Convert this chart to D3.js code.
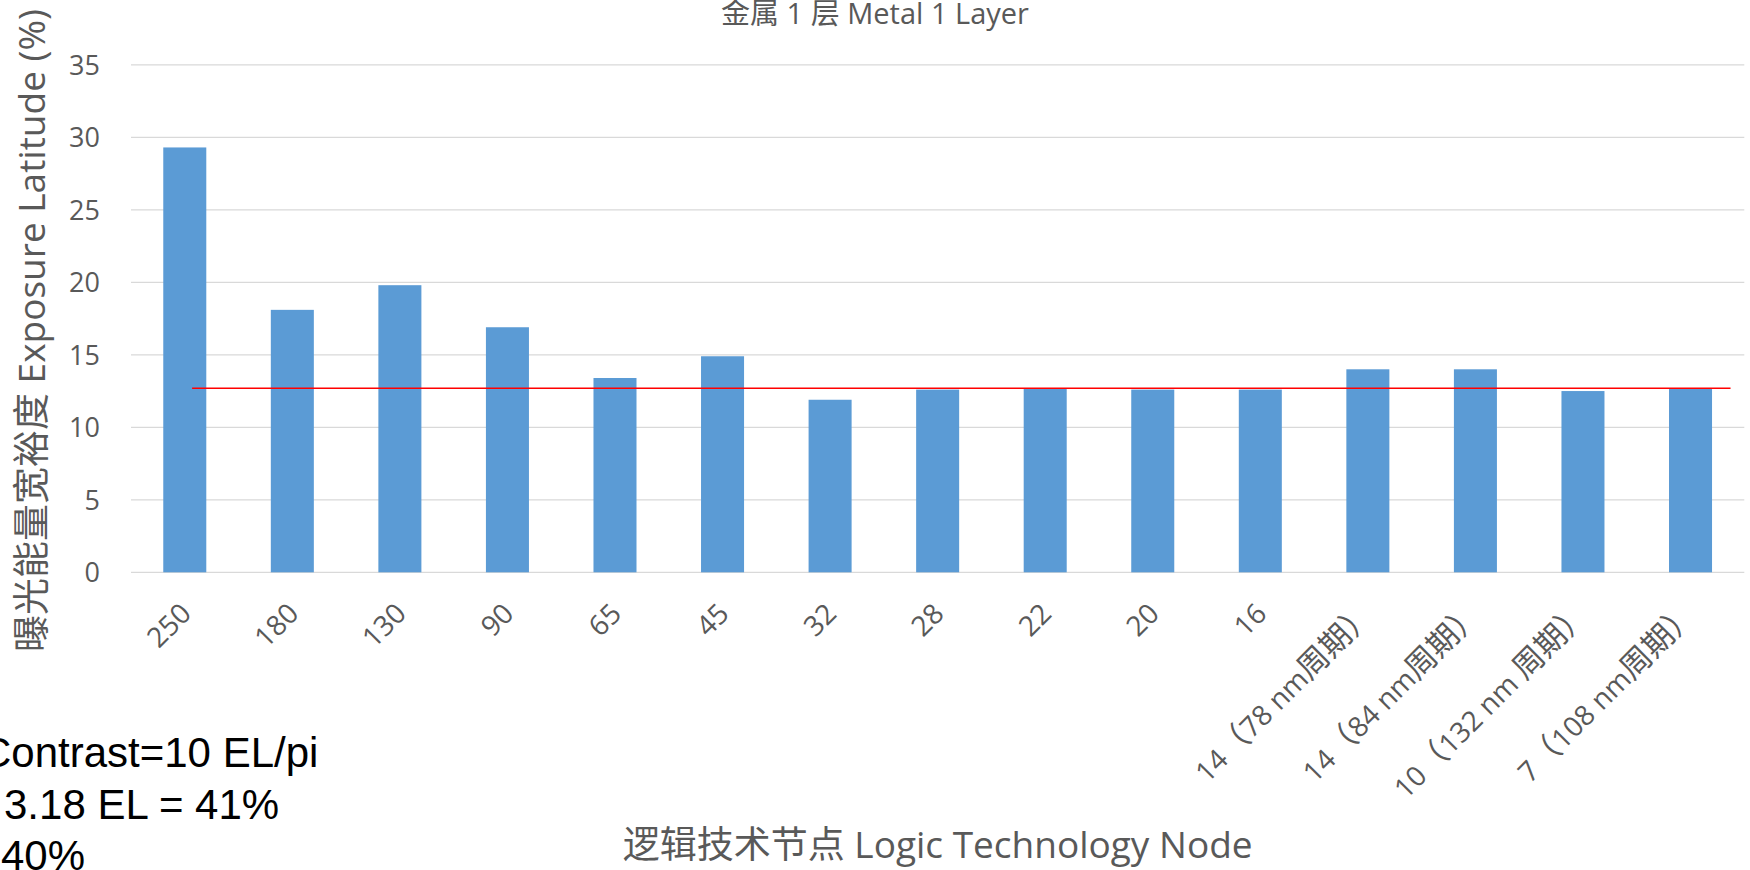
<!DOCTYPE html>
<html>
<head>
<meta charset="utf-8">
<script src="https://cdn.jsdelivr.net/npm/d3@7"></script>
<style>
  html, body { margin: 0; padding: 0; background: #fff; }
  svg { display: block; }
  .lbl { font-family: "Open Sans", "Noto Sans CJK SC", sans-serif; }
  .note { font-family: "Liberation Sans", Arial, sans-serif; }
</style>
</head>
<body>
<svg id="chart" width="1750" height="870"></svg>
<script>
// Exposure latitude per logic node, Metal 1 layer
const categories = ["250", "180", "130", "90", "65", "45", "32", "28", "22", "20", "16",
  "14（78 nm周期）", "14（84 nm周期）", "10（132 nm 周期）", "7（108 nm周期）"];
const exposureLatitude = [29.3, 18.1, 19.8, 16.9, 13.4, 14.9, 11.9, 12.6, 12.7, 12.6, 12.6,
  14.0, 14.0, 12.5, 12.7];
const referenceLevel = 12.7;
const yTicks = [0, 5, 10, 15, 20, 25, 30, 35];
const noteLines = ["Contrast=10 EL/pi", "3.18 EL = 41%", "40%"];

const chartTitle = "金属 1 层 Metal 1 Layer";
const xTitle = "逻辑技术节点 Logic Technology Node";
const yTitle = "曝光能量宽裕度 Exposure Latitude (%)";

const svg = d3.select("#chart");
const plot = { left: 131, right: 1744.3, top: 64.8, bottom: 572.3 };

const x = d3.scaleBand()
  .domain(categories)
  .range([plot.left, plot.right])
  .paddingInner(0.6)
  .paddingOuter(0.3);

const y = d3.scaleLinear()
  .domain([0, 35])
  .range([plot.bottom, plot.top]);

// Horizontal gridlines (the zero line doubles as the axis)
svg.append("g")
  .selectAll("line")
  .data(yTicks)
  .join("line")
  .attr("x1", plot.left)
  .attr("x2", plot.right)
  .attr("y1", d => y(d))
  .attr("y2", d => y(d))
  .attr("stroke", "#d9d9d9")
  .attr("stroke-width", 1.3);

// Y tick labels
svg.append("g")
  .selectAll("text")
  .data(yTicks)
  .join("text")
  .attr("class", "lbl")
  .attr("x", plot.left - 31)
  .attr("y", d => y(d))
  .attr("dy", "0.36em")
  .attr("text-anchor", "end")
  .attr("font-size", 27)
  .attr("fill", "#595959")
  .text(d => d);

// Bars
svg.append("g")
  .selectAll("rect")
  .data(categories)
  .join("rect")
  .attr("x", d => x(d))
  .attr("width", x.bandwidth())
  .attr("y", (d, i) => y(exposureLatitude[i]))
  .attr("height", (d, i) => y(0) - y(exposureLatitude[i]))
  .attr("fill", "#5b9bd5");

// Reference level line
const bw = x.bandwidth();
svg.append("line")
  .attr("x1", x(categories[0]) + bw * 0.67)
  .attr("x2", x(categories[categories.length - 1]) + bw * 1.43)
  .attr("y1", y(referenceLevel))
  .attr("y2", y(referenceLevel))
  .attr("stroke", "#ff0000")
  .attr("stroke-width", 1.5);

// Rotated category labels; CJK runs are set a little larger than the Latin runs
const cjkRun = /([\u3000-\u9fff\uff00-\uffef]+)/;
svg.append("g")
  .selectAll("text")
  .data(categories)
  .join("text")
  .attr("class", "lbl")
  .attr("transform", d => `translate(${x(d) + bw / 2 + 8},${plot.bottom + 43}) rotate(-45)`)
  .attr("text-anchor", "end")
  .attr("font-size", 28)
  .attr("fill", "#595959")
  .each(function (d) {
    const t = d3.select(this);
    d.split(cjkRun).filter(s => s.length).forEach(s => {
      t.append("tspan")
        .attr("font-size", cjkRun.test(s) ? 31 : 28)
        .text(s);
    });
  });

// Chart title
svg.append("text")
  .attr("class", "lbl")
  .attr("x", 875)
  .attr("y", 24)
  .attr("text-anchor", "middle")
  .attr("font-size", 29)
  .attr("fill", "#595959")
  .text(chartTitle);

// X axis title
svg.append("text")
  .attr("class", "lbl")
  .attr("x", (plot.left + plot.right) / 2)
  .attr("y", 858)
  .attr("text-anchor", "middle")
  .attr("font-size", 37)
  .attr("fill", "#595959")
  .text(xTitle);

// Y axis title, reading upward from the bottom
svg.append("text")
  .attr("class", "lbl")
  .attr("transform", "translate(45,652) rotate(-90)")
  .attr("text-anchor", "start")
  .attr("font-size", 37)
  .attr("fill", "#595959")
  .text(yTitle);

// Notes in the lower left corner
svg.append("g")
  .selectAll("text")
  .data(noteLines)
  .join("text")
  .attr("class", "note")
  .attr("x", (d, i) => [-19, 4, 1][i])
  .attr("y", (d, i) => 767 + i * 51.5)
  .attr("font-size", 42)
  .attr("fill", "#000")
  .text(d => d);
</script>
</body>
</html>
